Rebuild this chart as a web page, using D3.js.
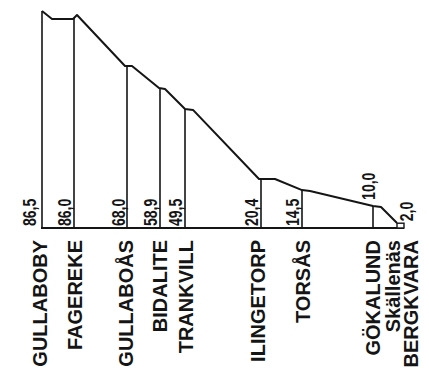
<!DOCTYPE html>
<html>
<head>
<meta charset="utf-8">
<script src="https://cdn.jsdelivr.net/npm/d3@7"></script>
<style>
  html, body { margin: 0; padding: 0; background: #fff; }
  svg { display: block; }
</style>
</head>
<body>
<svg id="chart" width="429" height="382"></svg>
<script>
// ---- data ----
const stations = ["GULLABOBY", "FAGEREKE", "GULLABOÅS", "BIDALITE", "TRANKVILL",
                  "ILINGETORP", "TORSÅS", "GÖKALUND", "Skällenäs", "BERGKVARA"];
const stationKm = [0, 3.2, 8.5, 11.8, 14.3, 21.9, 26.0, 33.1, 35.1, 35.85];
const elevations = [86.5, 86.0, 68.0, 58.9, 49.5, 20.4, 14.5, 10.0, null, 2.0];
const elevationLabels = ["86,5", "86,0", "68,0", "58,9", "49,5", "20,4", "14,5", "10,0", "", "2,0"];

// track profile (distance km, height m)
const profileKm   = [0, 1.0, 3.1, 3.5, 8.3, 9.0, 11.7, 12.3, 14.3, 15.1, 21.7, 23.3, 26.0, 26.8, 33.1, 33.9, 35.5];
const profileElev = [90.4, 87.1, 87.1, 88.75, 67.5, 67.5, 58.3, 57.9, 49.6, 49.2, 20.4, 20.4, 15.8, 15.4, 9.2, 8.75, 2.1];

// ---- layout ----
const svg = d3.select("#chart");
const x = d3.scaleLinear().domain([0, 36]).range([42, 402]);
const y = d3.scaleLinear().domain([0, 90]).range([228, 12]);
const ink = "#151515";

const profile = profileKm.map((k, i) => [k, profileElev[i]]);
const profileAt = k => {
  for (let i = 0; i < profile.length - 1; i++) {
    const [k0, e0] = profile[i], [k1, e1] = profile[i + 1];
    if (k >= k0 && k <= k1) return e0 + (e1 - e0) * (k - k0) / (k1 - k0);
  }
  return profile[profile.length - 1][1];
};

const g = svg.append("g");

// baseline
const endKm = stationKm[stationKm.length - 1] + 0.35;
g.append("line")
  .attr("x1", x(0) - 1).attr("x2", x(endKm))
  .attr("y1", y(0)).attr("y2", y(0))
  .attr("stroke", ink).attr("stroke-width", 2);

// vertical station lines
const withLines = stations.map((s, i) => ({ s, i })).filter(d => elevations[d.i] !== null && d.s !== "BERGKVARA");
g.selectAll("line.st").data(withLines).join("line")
  .attr("class", "st")
  .attr("x1", d => x(stationKm[d.i])).attr("x2", d => x(stationKm[d.i]))
  .attr("y1", y(0))
  .attr("y2", d => y(profileAt(stationKm[d.i])))
  .attr("stroke", ink).attr("stroke-width", 1.6);

// profile line
g.append("path")
  .datum(profile)
  .attr("d", d3.line().x(d => x(d[0])).y(d => y(d[1])))
  .attr("fill", "none").attr("stroke", ink).attr("stroke-width", 2)
  .attr("stroke-linejoin", "round");

// terminal box at Bergkvara
const bi = stations.indexOf("BERGKVARA");
g.append("rect")
  .attr("x", x(stationKm[bi] - 0.35)).attr("y", y(elevations[bi]))
  .attr("width", x(stationKm[bi] + 0.35) - x(stationKm[bi] - 0.35))
  .attr("height", y(0) - y(elevations[bi]))
  .attr("fill", "#fff").attr("stroke", ink).attr("stroke-width", 1.4);

// elevation labels
const valOffset = { "GULLABOBY": [-6, 0], "GULLABOÅS": [-2, 0], "GÖKALUND": [2, -6], "BERGKVARA": [12, -2] };
stations.forEach((s, i) => {
  if (!elevationLabels[i]) return;
  const off = valOffset[s] || [-3, 0];
  let bx = x(stationKm[i]) + off[0];
  let by = y(0) - 2 + off[1];
  if (s === "GÖKALUND") by = y(profileAt(stationKm[i])) + off[1];
  if (s === "BERGKVARA") by = y(elevations[i]) - 2;
  g.append("text")
    .attr("transform", `translate(${bx},${by}) rotate(-90) scale(0.78,1)`)
    .attr("text-anchor", "start")
    .attr("font-family", "Liberation Sans, Arial, sans-serif")
    .attr("font-weight", "bold")
    .attr("font-size", 18)
    .attr("fill", ink)
    .text(elevationLabels[i]);
});

// station name labels
const nameOffset = { "GULLABOBY": -2, "FAGEREKE": 1, "GULLABOÅS": -1, "TRANKVILL": 1,
                     "ILINGETORP": -3, "TORSÅS": 1, "BERGKVARA": 10.5 };
stations.forEach((s, i) => {
  const bx = x(stationKm[i]) + 7 + (nameOffset[s] || 0);
  g.append("text")
    .attr("transform", `translate(${bx},240) rotate(-90)`)
    .attr("text-anchor", "end")
    .attr("font-family", "Liberation Sans, Arial, sans-serif")
    .attr("font-weight", "bold")
    .attr("font-size", 20)
    .attr("fill", ink)
    .text(s);
});
</script>
</body>
</html>
